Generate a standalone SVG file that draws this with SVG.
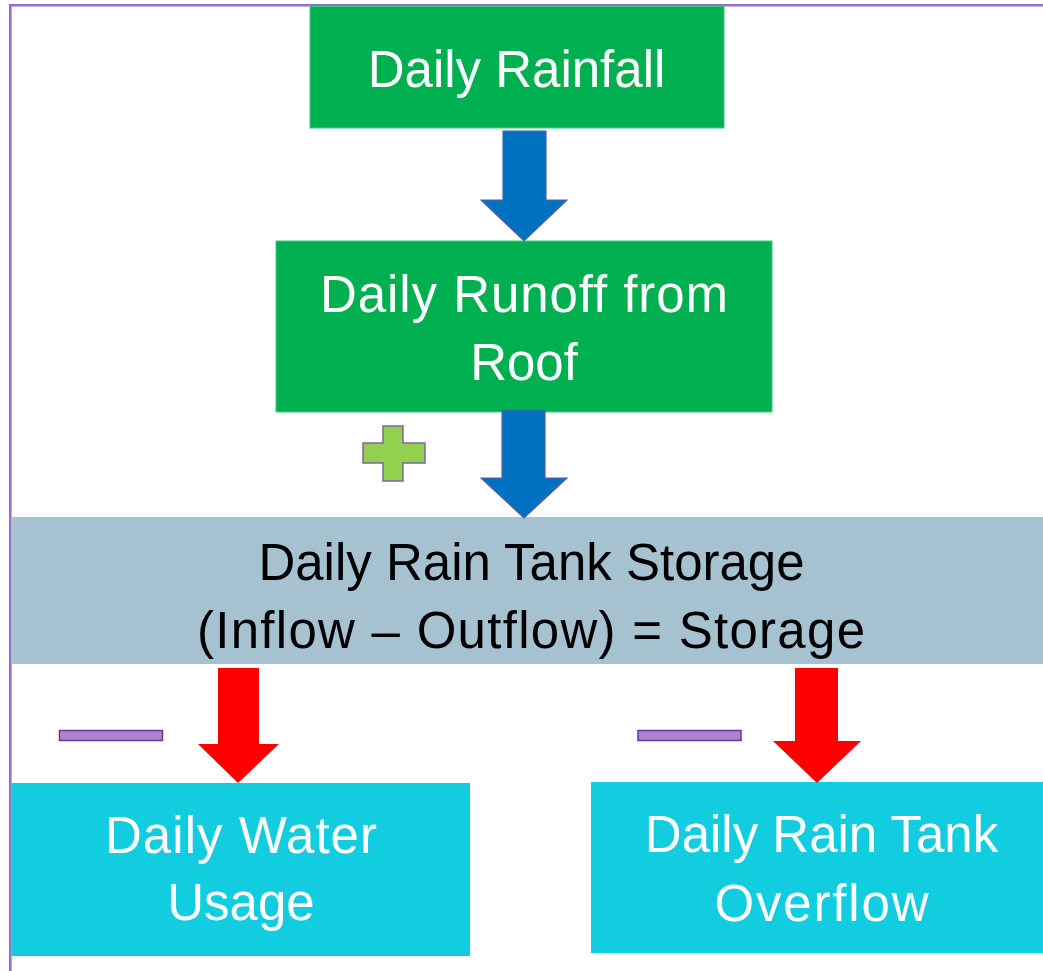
<svg xmlns="http://www.w3.org/2000/svg" width="1043" height="971" viewBox="0 0 1043 971">
<style>
.t{font-family:"Liberation Sans",Arial,sans-serif;font-size:51px;text-anchor:middle}
.w{fill:#ffffff}
.k{fill:#000000}
.green{fill:#00B050;stroke:#3DCB7C;stroke-width:1}
.blue{fill:#0070C0;stroke:#5A5E9E;stroke-width:1.2}
.red{fill:#FF0000}
.minus{fill:#AE86C8;stroke:#7030A0;stroke-width:1.5}
.plus{fill:#92D050;stroke:#8064A2;stroke-width:1.5}
</style>
<rect width="1043" height="971" fill="#ffffff"/>
<g id="frame">
<line x1="9" y1="5.3" x2="1043" y2="5.3" stroke="#9470C8" stroke-width="2.6"/>
<line x1="10.3" y1="4" x2="10.3" y2="971" stroke="#9470C8" stroke-width="2.6"/>
</g>
<g id="daily-rainfall">
<rect class="green" x="310" y="6.5" width="414" height="121.5"/>
<text class="t w" x="516.5" y="87">Daily Rainfall</text>
</g>
<g id="daily-runoff">
<rect class="green" x="276" y="241" width="496" height="171"/>
<text class="t w" x="524" y="312" textLength="408" lengthAdjust="spacing">Daily Runoff from</text>
<text class="t w" x="524" y="380">Roof</text>
</g>
<g id="storage">
<rect x="11.5" y="517" width="1031.5" height="147" fill="#A6C1CF"/>
<text class="t k" x="531.5" y="580">Daily Rain Tank Storage</text>
<text class="t k" x="531" y="648" textLength="668" lengthAdjust="spacing">(Inflow – Outflow) = Storage</text>
</g>
<g id="water-usage">
<rect x="11.5" y="783" width="458.5" height="173" fill="#12CCE0"/>
<text class="t w" x="241" y="853" textLength="272" lengthAdjust="spacing">Daily Water</text>
<text class="t w" x="241" y="920">Usage</text>
</g>
<g id="overflow">
<rect x="591" y="782" width="452" height="171" fill="#12CCE0"/>
<text class="t w" x="821.5" y="852">Daily Rain Tank</text>
<text class="t w" x="821.5" y="921" textLength="214" lengthAdjust="spacing">Overflow</text>
</g>
<g id="plus-sign">
<path class="plus" d="M383,426 H403 V443 H425 V463 H403 V481 H383 V463 H363 V443 H383 Z"/>
</g>
<g id="minus-usage">
<rect class="minus" x="59.5" y="730.5" width="103" height="10"/>
</g>
<g id="minus-overflow">
<rect class="minus" x="638" y="730.5" width="103" height="10"/>
</g>
<g id="connectors">
<path class="blue" d="M503,131 H546 V200 H567 L524,241 L481,200 H503 Z"/>
<path class="blue" d="M502,410 H545 V478 H567 L524,518 L481,478 H502 Z"/>
<path class="red" d="M218,668 H259 V744 H279 L238,783 L198,744 H218 Z"/>
<path class="red" d="M795,668 H838 V741 H861 L817,783 L773,741 H795 Z"/>
</g>
</svg>
